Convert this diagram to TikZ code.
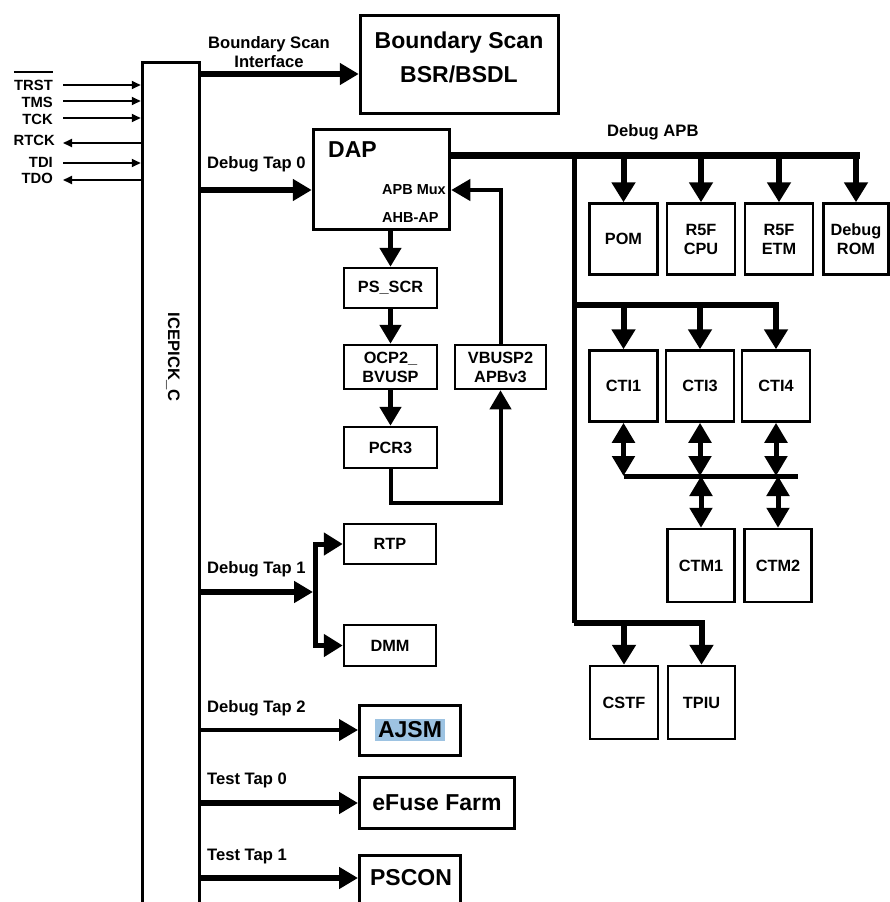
\documentclass[tikz,border=0pt]{standalone}
\usepackage{fontspec}
\setmainfont{Liberation Sans}
\usetikzlibrary{arrows.meta,calc}
\definecolor{hl}{RGB}{157,195,226}
\begin{document}
\begin{tikzpicture}[x=1pt,y=-1pt,
  bigbox/.style={draw, line width=3.5pt, inner sep=0pt},
  smallbox/.style={draw, line width=2.5pt, inner sep=0pt, align=center, font=\fontsize{16.3}{19}\selectfont\bfseries},
  largebox/.style={draw, line width=3pt, inner sep=0pt, align=center, font=\fontsize{23}{34}\selectfont\bfseries},
  lbl/.style={inner sep=0pt, font=\fontsize{16.6}{18.5}\selectfont\bfseries},
  inlbl/.style={inner sep=0pt, anchor=east, font=\fontsize{14.8}{17}\selectfont\bfseries},
  smlbl/.style={inner sep=0pt, font=\fontsize{14.5}{17}\selectfont\bfseries},
  inarr/.style={line width=2pt, -{Triangle[length=9pt,width=8pt]}},
  thickarr/.style={line width=5.5pt, -{Triangle[length=19pt,width=21pt]}},
  medarr/.style={line width=4pt, -{Triangle[length=19pt,width=21pt]}},
  busarr/.style={line width=6pt, -{Triangle[length=20pt,width=23pt]}},
  dblarr/.style={line width=5pt, {Triangle[length=20pt,width=22pt]}-{Triangle[length=20pt,width=22pt]}},
  busline/.style={line width=5pt},
]
\useasboundingbox (0,0) rectangle (890,902);
\fill[white] (0,0) rectangle (890,902);
\clip (0,0) rectangle (890,902);

% ICEPICK
\node[bigbox, minimum width=57pt, minimum height=870pt, anchor=north] (ice) at (171,60.75) {};
\node[lbl, rotate=-90] (icelbl) at (173,357) {ICEPICK\_C};

% input signals
\node[inlbl] (ltrst) at (53,85) {TRST};
\draw[line width=1.8pt] ([yshift=7.5pt]ltrst.north west) -- ([yshift=7.5pt]ltrst.north east);
\node[inlbl] (ltms) at (53,102) {TMS};
\node[inlbl] (ltck) at (53,119) {TCK};
\node[inlbl] (lrtck) at (55,140.5) {RTCK};
\node[inlbl] (ltdi) at (53,162) {TDI};
\node[inlbl] (ltdo) at (53,178) {TDO};
\coordinate (itrst) at (63,85);
\coordinate (itms) at (63,101);
\coordinate (itck) at (63,118);
\coordinate (irtck) at (63,143);
\coordinate (itdi) at (63,163);
\coordinate (itdo) at (63,180);
\draw[inarr] (itrst) -- (itrst -| ice.west);
\draw[inarr] (itms) -- (itms -| ice.west);
\draw[inarr] (itck) -- (itck -| ice.west);
\draw[inarr] (irtck -| ice.west) -- (irtck);
\draw[inarr] (itdi) -- (itdi -| ice.west);
\draw[inarr] (itdo -| ice.west) -- (itdo);

% Boundary scan
\node[bigbox, minimum width=198pt, minimum height=98pt] (bs) at (459.5,64.5) {};
\node[inner sep=0pt, align=center, font=\fontsize{23}{34}\selectfont\bfseries] (bstxt) at (459,57) {Boundary Scan\\BSR/BSDL};
\coordinate (cbs) at (0,74);
\draw[thickarr] (ice.east |- cbs) -- (bs.west |- cbs);
\node[lbl, align=center] (bslbl) at (269,52) {Boundary Scan\\Interface};

% DAP
\node[bigbox, minimum width=136pt, minimum height=100pt] (dap) at (381.5,179.5) {};
\node[inner sep=0pt, anchor=west, font=\fontsize{23}{27}\selectfont\bfseries] (daptxt) at (328,150) {DAP};
\node[smlbl, anchor=east] (apbmux) at (446,190) {APB Mux};
\node[smlbl, anchor=west] (ahbap) at (382,218) {AHB-AP};
\coordinate (cdt0) at (0,190);
\draw[thickarr] (ice.east |- cdt0) -- (dap.west |- cdt0);
\node[lbl, anchor=base west] (ldt0) at (207,168) {Debug Tap 0};

% DAP chain
\node[smallbox, minimum width=93pt, minimum height=40pt] (psscr) at (390.5,288) {PS\_SCR};
\node[smallbox, minimum width=93pt, minimum height=44pt] (ocp) at (390.5,367) {OCP2\_\\BVUSP};
\node[smallbox, minimum width=93pt, minimum height=41pt] (pcr) at (390.5,447.5) {PCR3};
\node[smallbox, minimum width=91pt, minimum height=44pt] (vb) at (500.5,367) {VBUSP2\\APBv3};
\draw[thickarr] (dap.south -| psscr.north) -- (psscr.north);
\draw[thickarr] (psscr.south) -- (ocp.north);
\draw[thickarr] (ocp.south) -- (pcr.north);
\coordinate (loopB) at (0,503);
\draw[medarr] (pcr.south) -- (pcr.south |- loopB) -- (vb.south |- loopB) -- (vb.south);
\draw[medarr] (vb.north) -- (vb.north |- cdt0) -- (dap.east |- cdt0);

% Debug APB bus
\coordinate (b1) at (574,155);
\coordinate (busend) at (860,155);
\coordinate (b2) at (574,305);
\coordinate (b3) at (574,623);
\draw[line width=7pt] (dap.east |- b1) -- (busend);
\node[lbl, anchor=base west] (ldapb) at (607,136) {Debug APB};

\node[smallbox, minimum width=68pt, minimum height=71pt] (pom) at (623.5,239) {POM};
\node[smallbox, minimum width=68pt, minimum height=71pt] (cpu) at (701,239) {R5F\\CPU};
\node[smallbox, minimum width=68pt, minimum height=71pt] (etm) at (779,239) {R5F\\ETM};
\node[smallbox, minimum width=65pt, minimum height=71pt] (rom) at (856,239) {Debug\\ROM};
\draw[busarr] (pom.north |- b1) -- (pom.north);
\draw[busarr] (cpu.north |- b1) -- (cpu.north);
\draw[busarr] (etm.north |- b1) -- (etm.north);
\draw[busarr] (rom.north |- b1) -- (rom.north);

\draw[busline] (b1) -- (b3);

% CTI
\node[smallbox, minimum width=68pt, minimum height=71pt] (cti1) at (623.5,386) {CTI1};
\node[smallbox, minimum width=68pt, minimum height=71pt] (cti3) at (700,386) {CTI3};
\node[smallbox, minimum width=68pt, minimum height=71pt] (cti4) at (776,386) {CTI4};
\draw[busarr] (b2) -- (cti4.north |- b2) -- (cti4.north);
\draw[busarr] (cti1.north |- b2) -- (cti1.north);
\draw[busarr] (cti3.north |- b2) -- (cti3.north);

\coordinate (barR) at (798,476);
\draw[busline] (cti1.south |- barR) -- (barR);
\draw[dblarr] (cti1.south) -- (cti1.south |- barR);
\draw[dblarr] (cti3.south) -- (cti3.south |- barR);
\draw[dblarr] (cti4.south) -- (cti4.south |- barR);

\node[smallbox, minimum width=67pt, minimum height=73pt] (ctm1) at (701,565.5) {CTM1};
\node[smallbox, minimum width=67pt, minimum height=73pt] (ctm2) at (778,565.5) {CTM2};
\draw[dblarr] (ctm1.north |- barR) -- (ctm1.north);
\draw[dblarr] (ctm2.north |- barR) -- (ctm2.north);

% CSTF / TPIU
\node[smallbox, minimum width=68pt, minimum height=73pt] (cstf) at (624,702.5) {CSTF};
\node[smallbox, minimum width=67pt, minimum height=73pt] (tpiu) at (701.5,702.5) {TPIU};
\draw[busarr] (b3) -- (tpiu.north |- b3) -- (tpiu.north);
\draw[busarr] (cstf.north |- b3) -- (cstf.north);

% Debug Tap 1
\node[smallbox, minimum width=92pt, minimum height=40pt] (rtp) at (390,544) {RTP};
\node[smallbox, minimum width=92pt, minimum height=41pt] (dmm) at (390,645.5) {DMM};
\coordinate (cdt1) at (313,592);
\coordinate (jx) at (315,0);
\draw[thickarr] (ice.east |- cdt1) -- (cdt1);
\draw[line width=5pt, {Triangle[length=19pt,width=22pt]}-{Triangle[length=19pt,width=22pt]}] (rtp.west) -- (jx |- rtp.west) -- (jx |- dmm.west) -- (dmm.west);
\node[lbl, anchor=base west] (ldt1) at (207,573) {Debug Tap 1};

% Debug Tap 2
\node[largebox, minimum width=101pt, minimum height=50pt] (ajsm) at (410,730) {{\fboxsep=3pt\colorbox{hl}{AJSM}}};
\coordinate (cdt2) at (0,730);
\draw[medarr] (ice.east |- cdt2) -- (ajsm.west |- cdt2);
\node[lbl, anchor=base west] (ldt2) at (207,712) {Debug Tap 2};

% Test Tap 0
\node[largebox, minimum width=155pt, minimum height=51pt] (efuse) at (437,802.5) {eFuse Farm};
\coordinate (ctt0) at (0,803);
\draw[thickarr] (ice.east |- ctt0) -- (efuse.west |- ctt0);
\node[lbl, anchor=base west] (ltt0) at (207,784) {Test Tap 0};

% Test Tap 1
\node[largebox, minimum width=101pt, minimum height=60pt, anchor=north] (pscon) at (410,853.5) {};
\node[inner sep=0pt, font=\fontsize{23}{27}\selectfont\bfseries] (psctxt) at (411,878) {PSCON};
\coordinate (ctt1) at (0,878);
\draw[thickarr] (ice.east |- ctt1) -- (pscon.west |- ctt1);
\node[lbl, anchor=base west] (ltt1) at (207,860) {Test Tap 1};
\end{tikzpicture}
\end{document}
